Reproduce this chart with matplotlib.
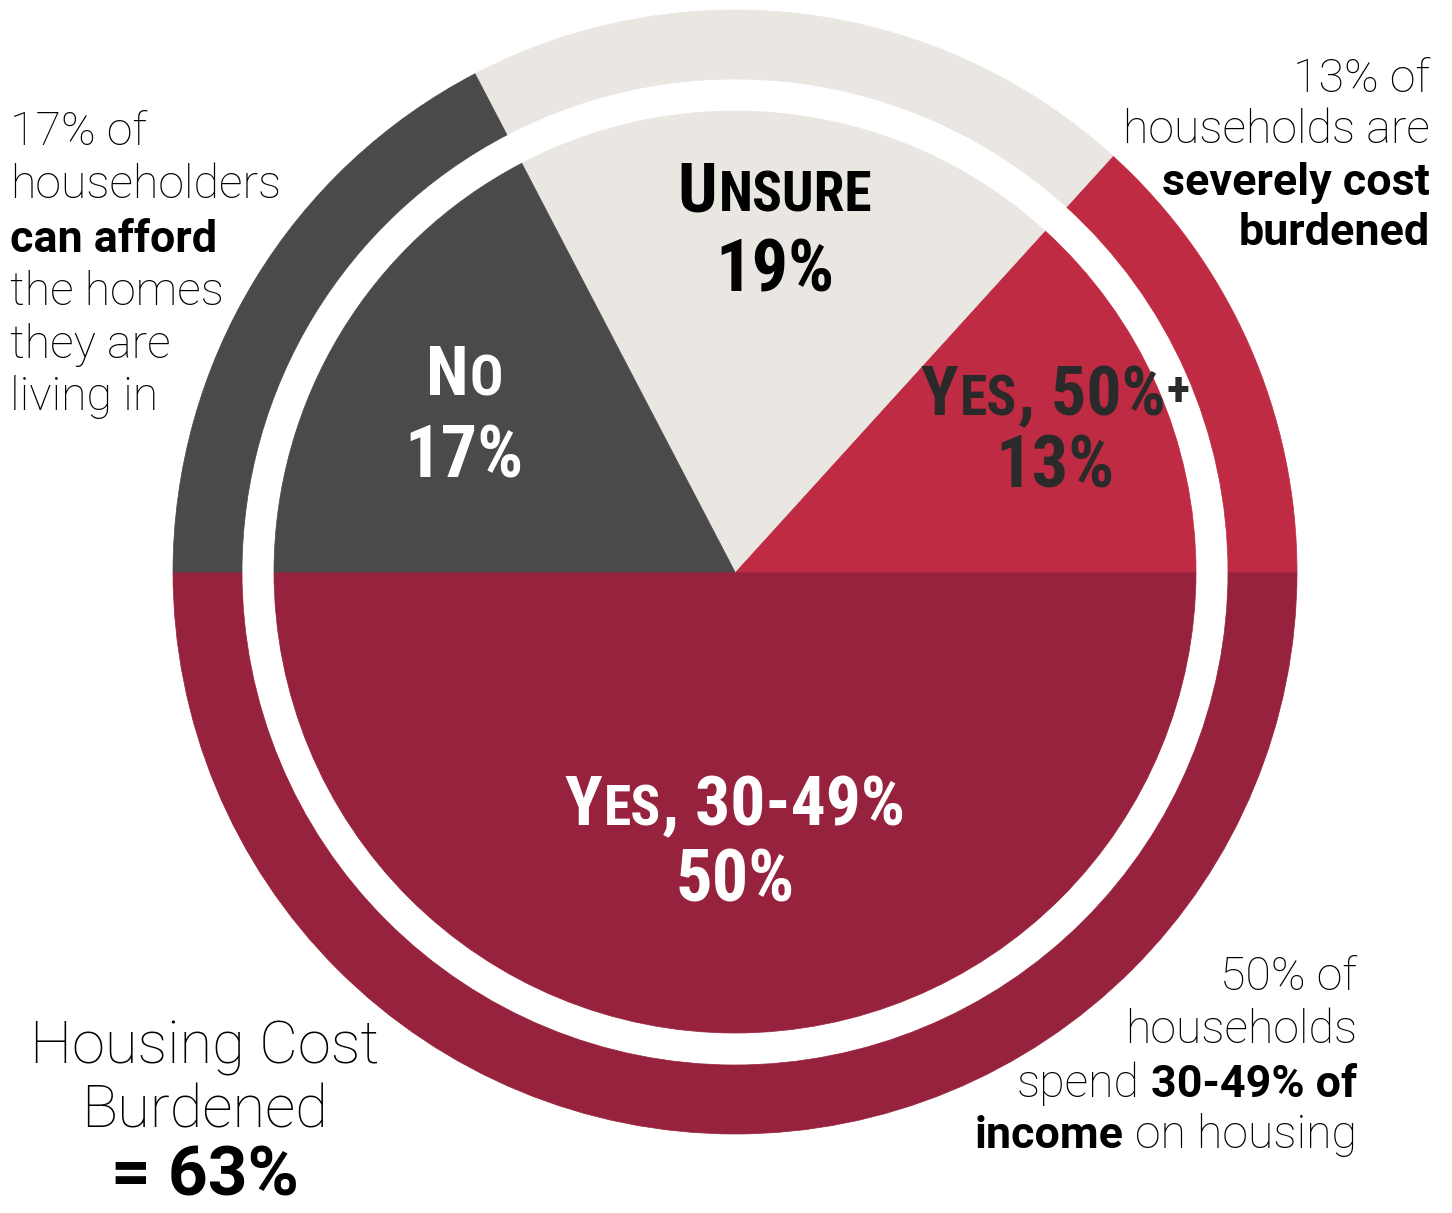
import matplotlib
matplotlib.use('Agg')
import matplotlib.pyplot as plt
from matplotlib.patches import Wedge
from matplotlib import font_manager

# data
labels = ['Yes, 30-49%', 'Yes, 50%+', 'Unsure', 'No']
values = [50, 13, 19, 17]
colors = ['#97223d', '#bf2b43', '#eae7e2', '#4a4a4a']
label_colors = ['white', '#2a2a2a', 'black', 'white']

W, H = 1452, 1213
cx, cy = 735, H - 572
r_pie = 461
r_out = 562
ring_w = 69

fig = plt.figure(figsize=(W / 100, H / 100), dpi=100)
ax = fig.add_axes([0, 0, 1, 1])
ax.set_xlim(0, W)
ax.set_ylim(0, H)
ax.axis('off')

# bottom half is the 50%, the rest shares the top half
thetas = [(180, 360)]
rest = sum(values[1:])
start = 0
for v in values[1:]:
    span = 180 * v / rest
    thetas.append((start, start + span))
    start += span

for (t1, t2), c in zip(thetas, colors):
    ax.add_patch(Wedge((cx, cy), r_out, t1, t2, width=ring_w, facecolor=c, edgecolor=c, lw=0.5))
    ax.add_patch(Wedge((cx, cy), r_pie, t1, t2, facecolor=c, edgecolor=c, lw=0.5))

renderer = fig.canvas.get_renderer()


def measure(s, props):
    t = ax.text(0, 0, s, **props)
    w = t.get_window_extent(renderer).width
    t.remove()
    return w


def rich(x, y, pieces, ha='left', kern=0):
    # pieces: (text, props); a leading space in a piece adds a space gap
    objs = []
    gaps = []
    for s, props in pieces:
        props = dict(props)
        dy = props.pop('dy', 0)
        g = 0
        if s.startswith(' '):
            g = measure('n n', props) - measure('nn', props)
            s = s.lstrip()
        t = ax.text(0, H - y + dy, s, ha='left', va='baseline', **props)
        objs.append(t)
        gaps.append(g)
    widths = [t.get_window_extent(renderer).width for t in objs]
    total = sum(widths) + sum(gaps) + kern * (len(objs) - 1)
    if ha == 'right':
        x0 = x - total
    elif ha == 'center':
        x0 = x - total / 2
    else:
        x0 = x
    for t, w, g in zip(objs, widths, gaps):
        x0 += g
        t.set_x(x0)
        x0 += w + kern


light = dict(family=['Roboto', 'DejaVu Sans'], weight='light', fontsize=33.5, color='black')
bold = dict(family=['Roboto', 'DejaVu Sans'], weight='bold', fontsize=32.3, color='black')

# left note
for s, st, yb in [('17% of', light, 145), ('householders', light, 198), ('can afford', bold, 252),
                  ('the homes', light, 305), ('they are', light, 358), ('living in', light, 410)]:
    rich(10, yb, [(s, st)], ha='left')

# top right note
for s, st, yb in [('13% of', light, 92), ('households are', light, 143),
                  ('severely cost', bold, 195), ('burdened', bold, 245)]:
    rich(1430, yb, [(s, st)], ha='right')

# bottom right note
rich(1357, 990, [('50% of', light)], ha='right')
rich(1357, 1043, [('households', light)], ha='right')
rich(1357, 1097, [('spend', light), (' 30-49% of', bold)], ha='right')
rich(1357, 1148, [('income', bold), (' on housing', light)], ha='right')

# bottom left summary
big_light = dict(light, fontsize=43)
big_bold = dict(bold, fontsize=50)
rich(205, 1063, [('Housing Cost', big_light)], ha='center')
rich(205, 1128, [('Burdened', big_light)], ha='center')
rich(205, 1195, [('= 63%', big_bold)], ha='center')

# slice labels in condensed small caps
names = {f.name for f in font_manager.fontManager.ttflist}
cond_name = next((n for n in ['Roboto Condensed', 'Liberation Sans Narrow', 'DejaVu Sans Condensed']
                  if n in names), 'DejaVu Sans')
cond = [cond_name, 'DejaVu Sans']


def small_caps(s, size, color):
    big = dict(family=cond, weight='bold', fontsize=size, color=color)
    small = dict(big, fontsize=size * 0.8)
    plus = dict(big, fontsize=size * 0.7, dy=size * 0.2)
    pieces = []
    for ch in s:
        st = plus if ch == '+' else small if ch.islower() else big
        if pieces and pieces[-1][1] is st:
            pieces[-1] = (pieces[-1][0] + ch.upper(), st)
        else:
            pieces.append((ch.upper(), st))
    return pieces


label_pos = [(735, 825, 902), (1055, 415, 488), (775, 212, 292), (464, 395, 478)]
for lab, v, c, (lx, y1, y2) in zip(labels, values, label_colors, label_pos):
    rich(lx, y1, small_caps(lab, 50, c), ha='center', kern=1)
    rich(lx, y2, [(f'{v}%', dict(family=cond, weight='bold', fontsize=52, color=c))], ha='center')

fig.savefig('out.png', dpi=100)
